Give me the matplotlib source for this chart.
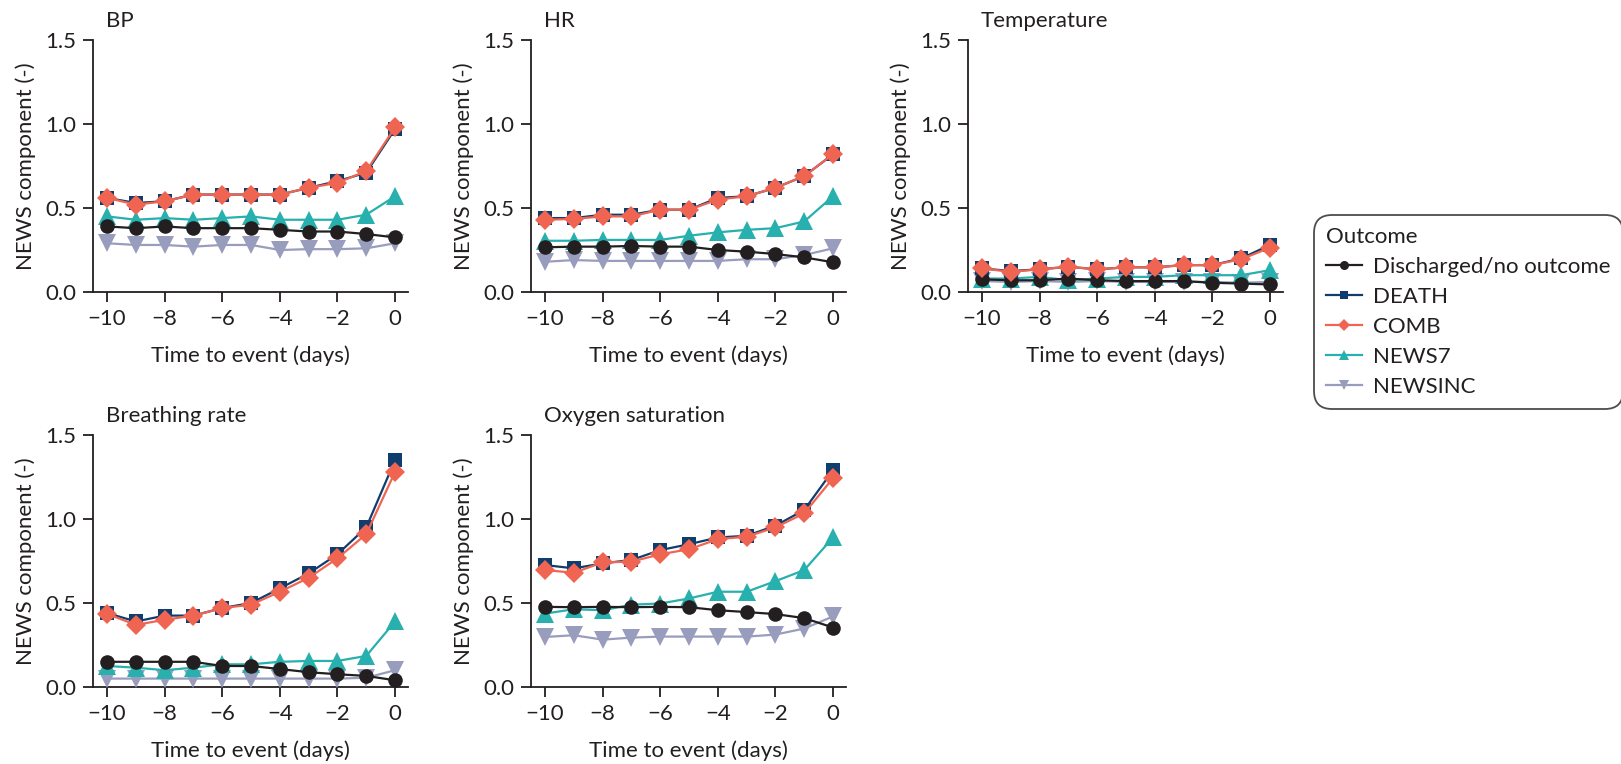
import numpy as np
import matplotlib
matplotlib.use("Agg")
import matplotlib.pyplot as plt
from matplotlib.lines import Line2D

plt.rcParams['font.family'] = ['Lato', 'DejaVu Sans']
plt.rcParams['font.size'] = 16
plt.rcParams['text.color'] = '#231f20'
plt.rcParams['axes.labelcolor'] = '#231f20'
plt.rcParams['xtick.color'] = '#231f20'
plt.rcParams['ytick.color'] = '#231f20'

days = np.arange(-10, 1)

outcomes = ['Discharged/no outcome', 'DEATH', 'COMB', 'NEWS7', 'NEWSINC']
colors = ['#231f20', '#0f3d6e', '#ef6552', '#27b0ad', '#999dbd']
markers = ['o', 's', 'D', '^', 'v']
msizes = [10.5, 10, 10.5, 12.5, 12.5]

# mean NEWS component per day before the event, one list per outcome
bp_disch = [0.39, 0.38, 0.39, 0.38, 0.38, 0.38, 0.37, 0.36, 0.36, 0.345, 0.325]
bp_death = [0.56, 0.53, 0.54, 0.58, 0.58, 0.58, 0.58, 0.62, 0.66, 0.71, 0.97]
bp_comb = [0.56, 0.52, 0.54, 0.58, 0.58, 0.58, 0.58, 0.62, 0.65, 0.72, 0.98]
bp_news7 = [0.45, 0.43, 0.44, 0.43, 0.44, 0.45, 0.43, 0.43, 0.43, 0.46, 0.57]
bp_newsinc = [0.29, 0.28, 0.28, 0.27, 0.28, 0.28, 0.25, 0.255, 0.255, 0.26, 0.29]

hr_disch = [0.266, 0.27, 0.27, 0.274, 0.27, 0.27, 0.25, 0.24, 0.226, 0.206, 0.177]
hr_death = [0.44, 0.44, 0.46, 0.46, 0.49, 0.49, 0.56, 0.57, 0.62, 0.69, 0.82]
hr_comb = [0.43, 0.435, 0.45, 0.45, 0.49, 0.49, 0.55, 0.57, 0.62, 0.69, 0.82]
hr_news7 = [0.305, 0.305, 0.31, 0.31, 0.31, 0.335, 0.355, 0.37, 0.38, 0.42, 0.57]
hr_newsinc = [0.18, 0.19, 0.185, 0.185, 0.185, 0.185, 0.185, 0.195, 0.195, 0.22, 0.26]

temp_disch = [0.075, 0.07, 0.07, 0.08, 0.07, 0.065, 0.065, 0.065, 0.055, 0.05, 0.045]
temp_death = [0.14, 0.125, 0.135, 0.15, 0.135, 0.147, 0.147, 0.16, 0.16, 0.2, 0.28]
temp_comb = [0.14, 0.12, 0.135, 0.15, 0.135, 0.147, 0.147, 0.16, 0.16, 0.195, 0.264]
temp_news7 = [0.08, 0.08, 0.09, 0.07, 0.08, 0.09, 0.09, 0.1, 0.1, 0.1, 0.13]
temp_newsinc = [0.065, 0.06, 0.065, 0.06, 0.065, 0.06, 0.06, 0.06, 0.06, 0.055, 0.06]

br_disch = [0.15, 0.15, 0.15, 0.15, 0.125, 0.125, 0.107, 0.088, 0.076, 0.066, 0.04]
br_death = [0.44, 0.39, 0.425, 0.425, 0.47, 0.5, 0.587, 0.676, 0.79, 0.95, 1.35]
br_comb = [0.435, 0.37, 0.4, 0.425, 0.47, 0.49, 0.567, 0.65, 0.766, 0.91, 1.28]
br_news7 = [0.125, 0.115, 0.1, 0.115, 0.135, 0.135, 0.15, 0.155, 0.155, 0.185, 0.39]
br_newsinc = [0.05, 0.05, 0.05, 0.05, 0.05, 0.05, 0.05, 0.05, 0.05, 0.055, 0.1]

ox_disch = [0.477, 0.475, 0.477, 0.475, 0.477, 0.475, 0.457, 0.446, 0.434, 0.41, 0.354]
ox_death = [0.726, 0.706, 0.736, 0.756, 0.815, 0.85, 0.89, 0.9, 0.96, 1.054, 1.29]
ox_comb = [0.696, 0.68, 0.742, 0.746, 0.79, 0.82, 0.88, 0.895, 0.95, 1.034, 1.243]
ox_news7 = [0.437, 0.463, 0.457, 0.49, 0.497, 0.527, 0.567, 0.567, 0.63, 0.696, 0.89]
ox_newsinc = [0.298, 0.308, 0.282, 0.294, 0.3, 0.3, 0.3, 0.3, 0.312, 0.348, 0.42]

panels = [
    ('BP', [bp_disch, bp_death, bp_comb, bp_news7, bp_newsinc]),
    ('HR', [hr_disch, hr_death, hr_comb, hr_news7, hr_newsinc]),
    ('Temperature', [temp_disch, temp_death, temp_comb, temp_news7, temp_newsinc]),
    ('Breathing rate', [br_disch, br_death, br_comb, br_news7, br_newsinc]),
    ('Oxygen saturation', [ox_disch, ox_death, ox_comb, ox_news7, ox_newsinc]),
]

W, H = 1621, 764
fig = plt.figure(figsize=(W / 100, H / 100), dpi=100)

# axes boxes in pixels: left spine x, top (y=1.5) pixel row
boxes = [(93, 40), (531, 40), (968, 40), (93, 435), (531, 435)]
aw, ah = 315, 252

# draw order: lower series first, COMB on top
draw_order = [4, 3, 0, 1, 2]

for (title, series), (px, py) in zip(panels, boxes):
    ax = fig.add_axes([px / W, (H - py - ah) / H, aw / W, ah / H])
    for z, i in enumerate(draw_order):
        ax.plot(days, series[i], color=colors[i], marker=markers[i],
                markersize=msizes[i], linewidth=1.6, zorder=3 + z,
                markeredgewidth=0)
    ax.set_xlim(-10.49, 0.45)
    ax.set_ylim(0, 1.5)
    ax.set_xticks([-10, -8, -6, -4, -2, 0])
    ax.set_yticks([0, 0.5, 1.0, 1.5])
    ax.set_yticklabels(['0.0', '0.5', '1.0', '1.5'])
    ax.spines['top'].set_visible(False)
    ax.spines['right'].set_visible(False)
    for s in ('left', 'bottom'):
        ax.spines[s].set_linewidth(1.3)
        ax.spines[s].set_color('#231f20')
    ax.tick_params(length=7, width=1.3, labelsize=16, pad=5)
    ax.set_xlabel('Time to event (days)', fontsize=16, labelpad=12)
    ax.set_ylabel('NEWS component (-)', fontsize=16, labelpad=7)
    ax.text(0.04, 1.052, title, transform=ax.transAxes, ha='left',
            va='baseline', fontsize=16)

handles = [Line2D([], [], color=colors[i], marker=markers[i],
                  markersize=msizes[i] * 0.62, linewidth=1.6,
                  markeredgewidth=0) for i in range(5)]
leg = fig.legend(handles, outcomes, title='Outcome', loc='center left',
                 bbox_to_anchor=(1303 / W, (H - 312) / H), fontsize=16,
                 title_fontsize=16, frameon=True, fancybox=True,
                 handlelength=1.6, handletextpad=0.5, labelspacing=0.45,
                 borderpad=0.55, alignment='left')
leg.get_frame().set_edgecolor('#231f20')
leg.get_frame().set_linewidth(1.3)
leg.get_frame().set_boxstyle('round,pad=0,rounding_size=0.8')

fig.savefig('out.png', dpi=100)
